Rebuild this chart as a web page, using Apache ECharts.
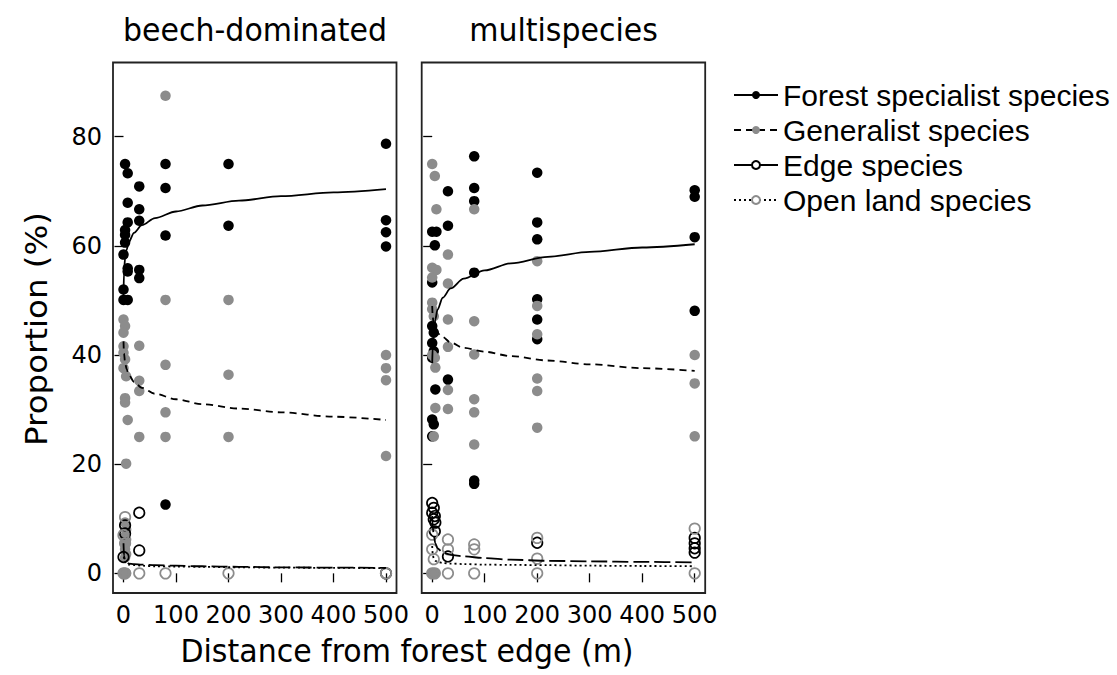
<!DOCTYPE html>
<html><head><meta charset="utf-8">
<script src="https://cdn.jsdelivr.net/npm/echarts@6/dist/echarts.min.js"></script>
<style>html,body{margin:0;padding:0;background:#fff}#c{width:1117px;height:675px}</style>
</head><body><div id="c"></div>
<script>
const panelTitles = ['beech-dominated', 'multispecies'];
const groupNames = ['Forest specialist species', 'Generalist species', 'Edge species', 'Open land species'];
const xTicks = [0, 100, 200, 300, 400, 500];
const yTicks = [0, 20, 40, 60, 80];
const xTitle = 'Distance from forest edge (m)';
const yTitle = 'Proportion (%)';

// observed points: [distance (m), proportion (%)]
const beechForest = [[3,75.0],[8,73.3],[8,67.9],[8,64.3],[3,62.9],[3,62.0],[3,60.6],[0,58.4],[8,55.9],[8,55.3],[0,52.0],[0,50.1],[8,50.1],
  [30,70.9],[30,66.7],[30,64.6],[30,55.6],[30,54.1],
  [80,75.0],[80,70.6],[80,61.9],[80,12.6],
  [200,75.0],[200,63.7],
  [500,78.7],[500,64.7],[500,62.5],[500,59.9]];
const beechGeneralist = [[0,46.5],[3,45.3],[0,44.1],[0,41.6],[0,40.4],[3,39.2],[0,37.6],[5,36.1],[3,32.1],[3,31.3],[8,28.1],[5,20.1],
  [3,9.3],[5,8.0],[3,6.8],[5,6.2],[3,5.3],[3,4.4],[5,3.5],[3,2.9],[0,0],[5,0],
  [30,41.7],[30,35.3],[30,33.4],[30,25.0],
  [80,87.5],[80,50.1],[80,38.2],[80,29.5],[80,25.0],
  [200,50.1],[200,36.4],[200,25.0],
  [500,40.0],[500,37.6],[500,35.4],[500,21.5]];
const beechEdge = [[3,8.8],[3,7.3],[0,3.0],[30,11.1],[30,4.2],[500,0]];
const beechOpen = [[3,10.3],[0,7.0],[3,5.5],[0,0],[3,0],[30,0],[80,0],[200,0],[500,0]];

const multiForest = [[0,62.6],[8,62.6],[5,60.1],[0,53.3],[0,45.3],[3,44.1],[0,42.2],[3,40.7],[0,39.5],[6,33.7],[0,28.2],[3,27.3],[0,25.1],
  [30,70.0],[30,63.7],[30,35.5],
  [80,76.4],[80,70.6],[80,68.2],[80,55.1],[80,17.0],[80,16.4],
  [200,73.4],[200,64.3],[200,61.2],[200,50.2],[200,46.5],[200,42.9],
  [500,70.2],[500,69.0],[500,61.6],[500,48.1]];
const multiGeneralist = [[0,75.0],[5,72.8],[8,66.7],[0,56.0],[8,55.6],[0,54.2],[0,49.6],[0,48.4],[3,47.1],[0,40.0],[5,39.5],[6,37.7],[6,30.3],[3,25.1],[0,0],[5,0],
  [30,58.4],[30,53.1],[30,46.5],[30,41.5],[30,33.6],[30,30.1],
  [80,66.7],[80,46.2],[80,40.1],[80,31.9],[80,29.5],[80,23.6],
  [200,57.2],[200,49.0],[200,43.8],[200,35.7],[200,33.4],[200,26.7],
  [500,40.0],[500,34.8],[500,25.1]];
const multiEdge = [[0,12.9],[3,12.0],[0,11.1],[5,10.5],[3,9.9],[6,9.3],[5,7.7],[30,3.1],[200,5.6],[500,6.5],[500,5.5],[500,4.6],[500,3.8]];
const multiOpen = [[0,7.1],[0,4.4],[3,2.6],[0,0],[5,0],[30,6.2],[30,4.4],[30,0],[80,5.3],[80,4.4],[80,0],[200,6.5],[200,2.7],[200,0],[500,8.2],[500,0]];

// fitted curves at these distances
const fitX = [0, 1, 3, 6, 10, 20, 35, 60, 100, 150, 220, 300, 400, 500];
const beechForestFit = [51.0, 55.3, 57.7, 59.3, 60.7, 62.4, 63.8, 65.1, 66.3, 67.4, 68.3, 69.1, 69.8, 70.4];
const beechGeneralistFit = [42.5, 40.3, 38.6, 37.4, 36.4, 35.1, 34.0, 32.9, 31.9, 31.0, 30.2, 29.5, 28.7, 28.1];
const beechEdgeFit = [5.5, 3.2, 2.4, 2.0, 1.8, 1.7, 1.6, 1.5, 1.4, 1.3, 1.2, 1.1, 1.05, 1.0];
const beechOpenFit = [4.0, 2.6, 2.0, 1.7, 1.6, 1.5, 1.4, 1.3, 1.25, 1.2, 1.1, 1.05, 1.0, 0.95];
const multiForestFit = [38.5, 41.5, 44.0, 46.5, 48.3, 50.5, 52.2, 54.0, 55.5, 56.8, 58.0, 58.9, 59.7, 60.3];
const multiGeneralistFit = [49.0, 47.0, 45.5, 44.6, 44.0, 43.3, 42.3, 41.3, 40.6, 39.8, 39.0, 38.3, 37.6, 37.1];
const multiEdgeFit = [10.5, 8.5, 7.0, 5.5, 4.6, 3.8, 3.4, 3.1, 2.8, 2.5, 2.3, 2.2, 2.1, 2.0];
const multiOpenFit = [5.0, 3.5, 2.7, 2.3, 2.1, 1.9, 1.8, 1.7, 1.6, 1.55, 1.5, 1.4, 1.35, 1.3];

const panels = [
  {points: [beechForest, beechGeneralist, beechEdge, beechOpen], fits: [beechForestFit, beechGeneralistFit, beechEdgeFit, beechOpenFit]},
  {points: [multiForest, multiGeneralist, multiEdge, multiOpen], fits: [multiForestFit, multiGeneralistFit, multiEdgeFit, multiOpenFit]}
];

const GRAY = '#8c8c8c';
const FONT = 'DejaVu Sans';
const markerStyles = [
  {symbol: 'circle', itemStyle: {color: '#000', opacity: 1}},
  {symbol: 'circle', itemStyle: {color: GRAY, opacity: 1}},
  {symbol: 'circle', itemStyle: {color: 'rgba(0,0,0,0)', borderColor: '#000', borderWidth: 1.7, opacity: 1}},
  {symbol: 'circle', itemStyle: {color: 'rgba(0,0,0,0)', borderColor: GRAY, borderWidth: 1.7, opacity: 1}}
];
const fitStyles = [
  {type: 'solid', symbol: 'circle', itemColor: '#000'},
  {type: [7, 5], symbol: 'circle', itemColor: GRAY},
  {type: [16, 5], symbol: 'emptyCircle', itemColor: '#000'},
  {type: [2, 3], symbol: 'emptyCircle', itemColor: GRAY}
];

const gridLefts = [113, 421.7];
const grids = gridLefts.map(l => ({left: l, top: 62.5, width: 283.5, height: 530.5, show: true, borderColor: '#222', borderWidth: 1.8, backgroundColor: 'transparent', containLabel: false}));
const xAxes = gridLefts.map((l, i) => ({
  type: 'value', gridIndex: i, min: -20, max: 520,
  axisLine: {show: false}, splitLine: {show: false},
  axisTick: {show: true, length: 9, customValues: xTicks, lineStyle: {color: '#000', width: 1.3}},
  axisLabel: {show: true, customValues: xTicks, margin: 10, fontFamily: FONT, fontSize: 24, color: '#000'}
}));
const yAxes = gridLefts.map((l, i) => ({
  type: 'value', gridIndex: i, min: -3.6, max: 93.6,
  axisLine: {show: false}, splitLine: {show: false},
  axisTick: {show: true, length: 9, customValues: yTicks, lineStyle: {color: '#000', width: 1.3}},
  axisLabel: {show: i === 0, customValues: yTicks, margin: 11, fontFamily: FONT, fontSize: 24, color: '#000'}
}));

const series = [];
panels.forEach((p, pi) => {
  p.fits.forEach((vals, gi) => {
    const st = fitStyles[gi];
    series.push({
      type: 'line', name: groupNames[gi], xAxisIndex: pi, yAxisIndex: pi,
      data: fitX.map((x, k) => [x, vals[k]]),
      showSymbol: false, symbol: st.symbol, symbolSize: 8,
      smooth: 0.3, smoothMonotone: 'x',
      itemStyle: {color: st.itemColor},
      lineStyle: {color: '#000', width: 1.8, type: st.type},
      z: 4, silent: true, animation: false
    });
  });
});
panels.forEach((p, pi) => {
  p.points.forEach((pts, gi) => {
    const ms = markerStyles[gi];
    series.push({
      type: 'scatter', name: groupNames[gi] + ' points', xAxisIndex: pi, yAxisIndex: pi,
      data: pts, symbol: ms.symbol, symbolSize: 10.5, itemStyle: ms.itemStyle,
      z: 2 + gi * 0.1, silent: true, animation: false
    });
  });
});

const chart = echarts.init(document.getElementById('c'), null, {renderer: 'svg'});
chart.setOption({
  animation: false,
  backgroundColor: '#fff',
  grid: grids, xAxis: xAxes, yAxis: yAxes, series: series,
  legend: {
    orient: 'vertical', left: 728, top: 75, itemWidth: 44, itemHeight: 10, itemGap: 5,
    selectedMode: false,
    textStyle: {fontFamily: 'Liberation Sans', fontSize: 30, color: '#000', lineHeight: 30},
    data: [
      {name: groupNames[0]},
      {name: groupNames[1]},
      {name: groupNames[2], lineStyle: {type: 'solid'}},
      {name: groupNames[3]}
    ]
  },
  graphic: [
    {type: 'text', x: 255, y: 30, scaleY: 1.08, style: {text: panelTitles[0], font: '30px "DejaVu Sans"', fill: '#000', textAlign: 'center', textVerticalAlign: 'middle'}},
    {type: 'text', x: 563.5, y: 30, scaleY: 1.08, style: {text: panelTitles[1], font: '30px "DejaVu Sans"', fill: '#000', textAlign: 'center', textVerticalAlign: 'middle'}},
    {type: 'text', x: 37, y: 329, rotation: Math.PI / 2, scaleX: 1.1, style: {text: yTitle, font: '29.5px "DejaVu Sans"', fill: '#000', textAlign: 'center', textVerticalAlign: 'middle'}},
    {type: 'text', x: 407, y: 651, scaleY: 1.08, style: {text: xTitle, font: '30px "DejaVu Sans"', fill: '#000', textAlign: 'center', textVerticalAlign: 'middle'}}
  ]
});
</script></body></html>
